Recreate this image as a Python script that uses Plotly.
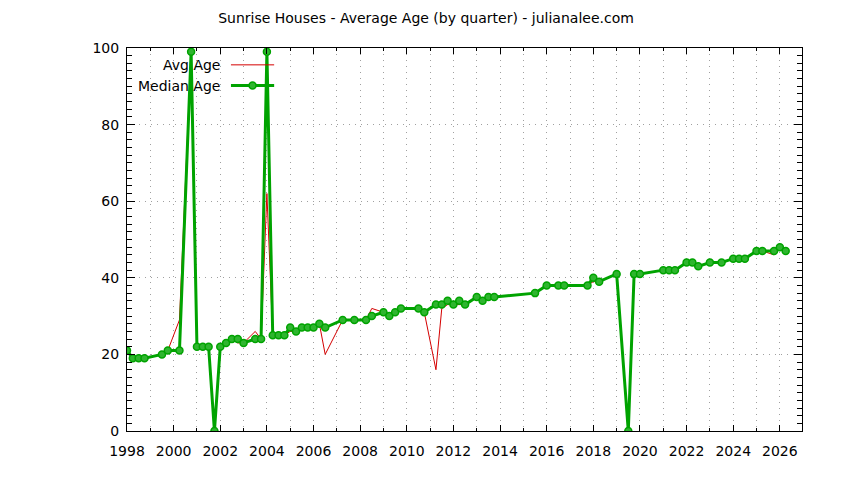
import plotly.graph_objects as go

# quarter start, as fractional year
quarters = [1998.0, 1998.25, 1998.5, 1998.75, 1999.5, 1999.75, 2000.25, 2000.75,
            2001.0, 2001.25, 2001.5, 2001.75, 2002.0, 2002.25, 2002.5, 2002.75,
            2003.0, 2003.5, 2003.75, 2004.0, 2004.25, 2004.5, 2004.75, 2005.0,
            2005.25, 2005.5, 2005.75, 2006.0, 2006.25, 2006.5, 2007.25, 2007.75,
            2008.25, 2008.5, 2009.0, 2009.25, 2009.5, 2009.75, 2010.5, 2010.75,
            2011.25, 2011.5, 2011.75, 2012.0, 2012.25, 2012.5, 2013.0, 2013.25,
            2013.5, 2013.75, 2015.5, 2016.0, 2016.5, 2016.75, 2017.75, 2018.0,
            2018.25, 2019.0, 2019.5, 2019.75, 2020.0, 2021.0, 2021.25, 2021.5,
            2022.0, 2022.25, 2022.5, 2023.0, 2023.5, 2024.0, 2024.25, 2024.5,
            2025.0, 2025.25, 2025.75, 2026.0, 2026.25]

avg_age = [21, 19, 19, 19, 20, 21, 29, 99,
           22, 22, 22, 0, 21, 23, 24, 23,
           23, 26, 24, 62, 25, 25, 25, 26,
           26, 27, 26.5, 27, 28, 20, 29, 29,
           29, 32, 31, 30, 31, 32, 32, 31,
           16, 32, 33, 33, 33, 33, 35, 34,
           35, 35, 36, 38, 38, 38, 38, 39,
           39, 41, 0, 41, 41, 42, 42, 42,
           44, 44, 43, 44, 44, 45, 45, 45,
           47, 47, 46, 48, 47]

median_age = [21, 19, 19, 19, 20, 21, 21, 99,
              22, 22, 22, 0, 22, 23, 24, 24,
              23, 24, 24, 99, 25, 25, 25, 27,
              26, 27, 27, 27, 28, 27, 29, 29,
              29, 30, 31, 30, 31, 32, 32, 31,
              33, 33, 34, 33, 34, 33, 35, 34,
              35, 35, 36, 38, 38, 38, 38, 40,
              39, 41, 0, 41, 41, 42, 42, 42,
              44, 44, 43, 44, 44, 45, 45, 45,
              47, 47, 47, 48, 47]

RED = '#d40000'
GREEN = '#00a300'
FONT = 'DejaVu Sans'

fig = go.Figure()
fig.add_trace(go.Scatter(x=quarters, y=avg_age, mode='lines', name='Avg Age',
                         line=dict(color=RED, width=1)))
fig.add_trace(go.Scatter(x=quarters, y=median_age, mode='lines+markers', name='Median Age',
                         line=dict(color=GREEN, width=3),
                         marker=dict(symbol='circle', size=7, color='#2fb52f',
                                     line=dict(color=GREEN, width=1.5))))

grid = dict(gridcolor='#a0a0a0', griddash='1px,5px', gridwidth=1)

fig.update_xaxes(range=[1998, 2026.95], dtick=2, tick0=1998, ticks='inside', ticklen=6,
                 tickcolor='black', showline=True, linecolor='black', linewidth=1,
                 mirror='allticks', showgrid=True, zeroline=False, automargin=False,
                 ticklabelstandoff=7,
                 minor=dict(dtick=1, ticks='inside', ticklen=3, tickcolor='black',
                            showgrid=True, **grid),
                 **grid)
fig.update_yaxes(range=[0, 100], dtick=20, ticks='inside', ticklen=8,
                 tickcolor='black', showline=True, linecolor='black', linewidth=1,
                 mirror='allticks', showgrid=True, zeroline=False, automargin=False,
                 ticklabelstandoff=4,
                 minor=dict(dtick=2, ticks='inside', ticklen=5, tickcolor='black',
                            showgrid=False),
                 **grid)

# gnuplot style key: text right-aligned, sample on the right
key_rows = [('Avg Age', 0.956, RED, 1, False), ('Median Age', 0.902, GREEN, 3, True)]
for label, ky, col, w, mark in key_rows:
    fig.add_annotation(text=label, xref='paper', yref='paper', x=0.141, y=ky,
                       xanchor='right', yanchor='middle', showarrow=False,
                       font=dict(family=FONT, size=14, color='black'))
    fig.add_shape(type='line', xref='paper', yref='paper', x0=0.154, x1=0.218,
                  y0=ky, y1=ky, line=dict(color=col, width=w))
    if mark:
        fig.add_shape(type='circle', xref='paper', yref='paper',
                      xsizemode='pixel', ysizemode='pixel',
                      xanchor=0.186, yanchor=ky, x0=-3.5, x1=3.5, y0=-3.5, y1=3.5,
                      fillcolor='#2fb52f', line=dict(color=GREEN, width=1.5))

# page body has an 8px margin, so the figure is drawn 8px smaller
fig.update_layout(
    width=836, height=472,
    margin=dict(l=119, r=42, t=40, b=49, autoexpand=False),
    paper_bgcolor='white', plot_bgcolor='white',
    showlegend=False,
    font=dict(family=FONT, size=14, color='black'),
    title=dict(text='Sunrise Houses - Average Age (by quarter) - julianalee.com',
               x=0.5, xanchor='center', y=1 - 10 / 472, yanchor='middle',
               font=dict(family=FONT, size=14, color='black')),
)

fig.write_html("out.html")
